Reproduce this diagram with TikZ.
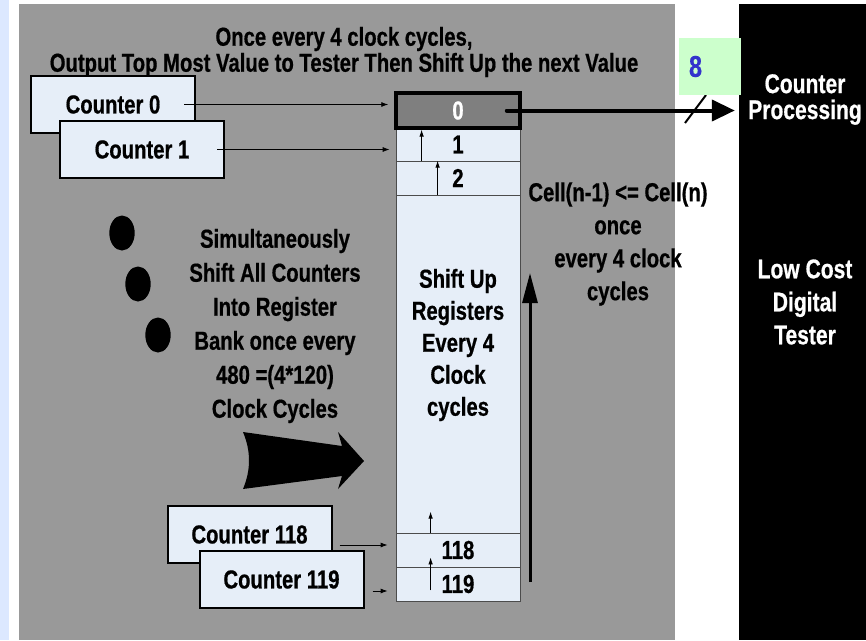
\documentclass[tikz,border=0pt]{standalone}
\usepackage{fontspec}
\setmainfont{Liberation Sans}[FakeStretch=0.78, FakeBold=0.6]
\usepackage{tikz}
\usetikzlibrary{arrows.meta}
\definecolor{panelgray}{HTML}{999999}
\definecolor{cellblue}{HTML}{E6EEF8}
\definecolor{topcell}{HTML}{7F7F7F}
\definecolor{busgreen}{HTML}{CCFFCC}
\definecolor{busblue}{HTML}{3333CC}
\definecolor{stripblue}{HTML}{DCE8FF}

\begin{document}
\begin{tikzpicture}[x=1pt, y=-1pt,
  font=\bfseries\fontsize{26}{26}\selectfont,
  counter/.style={draw, line width=2pt, fill=cellblue, minimum width=164pt, minimum height=57pt, inner sep=0pt},
  cell/.style={draw=black!70, line width=0.8pt, fill=cellblue, minimum width=124pt, inner sep=0pt},
  note/.style={align=center, inner sep=0pt},
  feed/.style={-{Latex[length=7pt,width=5pt]}, line width=0.8pt},
  uparrow/.style={-{Latex[length=7pt,width=4.5pt]}, line width=0.8pt},
  longup/.style={-{Triangle[length=30pt,width=15pt]}, line width=3pt},
  outbus/.style={-{Triangle[length=23pt,width=21pt]}, line width=4pt, line cap=round}]
  \useasboundingbox (0,0) rectangle (866,640);
  \fill[white] (0,0) rectangle (866,640);
  \fill[stripblue] (0,0) rectangle (9,640);
  \fill[panelgray] (19,4) rectangle (675,640);
  \node[fill=black, minimum width=127pt, minimum height=636pt, inner sep=0pt] (tester) at (802.5,322) {};

  \node[note] (title) at (344,52) {Once every 4 clock cycles,\\Output Top Most Value to Tester Then Shift Up the next Value};

  \node[counter] (cnt0) at (113,104.5) {Counter 0};
  \node[counter] (cnt1) at (142,149.5) {Counter 1};
  \node[counter] (cnt118) at (249.5,534.5) {Counter 118};
  \node[counter] (cnt119) at (281.5,579.5) {Counter 119};

  \node[cell, minimum height=33pt] (cell1) at (458,144.5) {1};
  \node[cell, minimum height=34pt] (cell2) at (458,178) {2};
  \node[cell, minimum height=338pt] (bank) at (458,364) {};
  \node[cell, minimum height=34pt] (cell118) at (458,550) {118};
  \node[cell, minimum height=34pt] (cell119) at (458,584) {119};
  \node[cell, draw=black, line width=3.5pt, fill=topcell, text=white, minimum height=35pt] (cell0) at (458,110.5) {0};

  \node[note, font=\bfseries\fontsize{26}{32}\selectfont] (shiftnote) at (458,345) {Shift Up\\Registers\\Every 4\\Clock\\cycles};
  \node[note, font=\bfseries\fontsize{26}{34}\selectfont] (banknote) at (275,326) {Simultaneously\\Shift All Counters\\Into Register\\Bank once every\\480 =(4*120)\\Clock Cycles};
  \node[note, font=\bfseries\fontsize{26}{33}\selectfont] (cellnote) at (618,244) {Cell(n-1) <= Cell(n)\\once\\every 4 clock\\cycles};

  \draw[feed, shorten >=6pt] ([xshift=-12pt]cnt0.east) -- (cnt0.east -| cell0.west);
  \draw[feed, shorten >=6pt] ([xshift=-8pt]cnt1.east) -- (cnt1.east -| cell1.west);
  \draw[feed] ([xshift=7pt,yshift=-10.5pt]cnt118.east) -- ([xshift=-8pt,yshift=5pt]cell118.west);
  \draw[feed] ([xshift=8pt,yshift=-11.5pt]cnt119.east) -- ([xshift=-8pt,yshift=-7pt]cell119.west);

  \draw[uparrow, shorten >=2pt] ([xshift=26pt]cell1.south west) -- ([xshift=26pt]cell1.north west);
  \draw[uparrow] ([xshift=42pt]cell2.south west) -- ([xshift=42pt]cell2.north west);
  \draw[uparrow] ([xshift=35pt]cell118.north west) -- ++(0,-21);
  \draw[uparrow] ([xshift=35pt,yshift=11pt]cell119.south west) -- ++(0,-33);

  \coordinate (upfoot) at (530,582);
  \coordinate (uphead) at (530,273);
  \draw[longup] (upfoot) -- (uphead);

  \fill (122,233) ellipse [x radius=12.7pt, y radius=17.5pt];
  \fill (138,284) ellipse [x radius=12.7pt, y radius=17.5pt];
  \fill (158,335) ellipse [x radius=12.7pt, y radius=17.5pt];
  \fill (243,432) -- (342,446) -- (338,432) -- (364,461) -- (338,489) -- (342,476) -- (243,489) .. controls (251,470) and (251,451) .. cycle;

  \draw[line width=2pt] (685,123) -- (706,95);
  \node[fill=busgreen, text=busblue, font=\bfseries\fontsize{30}{30}\selectfont, text width=42pt, align=left, inner xsep=10pt, minimum height=57pt] (buswidth) at (710,66.5) {8};
  \draw[outbus, shorten >=4pt] ([xshift=-15pt]cell0.east) -- (cell0.east -| tester.west);

  \node[note, text=white, font=\bfseries\fontsize{27}{26}\selectfont] (proc) at (805,99.5) {Counter\\Processing};
  \node[note, text=white, font=\bfseries\fontsize{27}{33}\selectfont] (lowcost) at (805,302) {Low Cost\\Digital\\Tester};
\end{tikzpicture}
\end{document}
